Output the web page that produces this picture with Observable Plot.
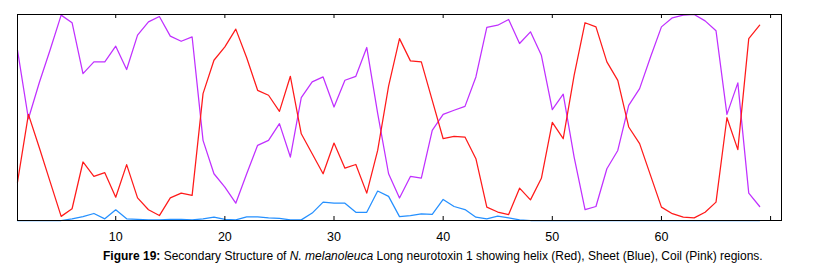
<!DOCTYPE html>
<html>
<head>
<meta charset="utf-8">
<script src="https://cdn.jsdelivr.net/npm/d3@7"></script>
<script src="https://cdn.jsdelivr.net/npm/@observablehq/plot@0.6"></script>
<style>
  html, body { margin: 0; padding: 0; background: #fff; }
  #wrap { position: relative; width: 820px; height: 272px; }
  #caption {
    position: absolute; left: 103px; top: 250px;
    font: 12px "Liberation Sans", Arial, sans-serif; line-height: 13px;
    color: #000; white-space: nowrap;
  }
</style>
</head>
<body>
<div id="wrap"><div id="chart"></div><div id="caption"><b>Figure 19:</b> Secondary Structure of <i>N. melanoleuca</i> Long neurotoxin 1 showing helix (Red), Sheet (Blue), Coil (Pink) regions.</div></div>
<script>
// Helix (red) probability per residue 1..69
const helix = [0.186,0.515,0.353,0.186,0.020,0.057,0.284,0.214,0.232,0.113,
  0.271,0.110,0.052,0.024,0.110,0.133,0.122,0.616,0.778,0.843,
  0.929,0.790,0.632,0.608,0.530,0.700,0.421,0.324,0.227,0.376,
  0.254,0.272,0.133,0.340,0.652,0.883,0.775,0.770,0.583,0.397,
  0.408,0.405,0.300,0.065,0.041,0.029,0.157,0.100,0.205,0.476,
  0.397,0.705,0.960,0.940,0.770,0.680,0.454,0.373,0.219,0.065,
  0.033,0.016,0.013,0.040,0.089,0.499,0.344,0.883,0.948];
// Sheet (blue)
const sheet = [0,0,0,0,0,0.008,0.019,0.034,0.008,0.052,
  0.008,0.005,0.003,0.003,0.005,0.005,0.003,0.008,0.016,0.005,
  0.003,0.018,0.018,0.013,0.010,0.003,0.003,0.036,0.089,0.084,
  0.084,0.040,0.040,0.143,0.117,0.019,0.024,0.032,0.030,0.102,
  0.068,0.053,0.016,0.008,0.021,0.013,0.003,0,0,0,
  0,0,0,0,0,0,0,0,0,0,
  0,0,0,0,0,0,0,0,0];
// Coil (pink/purple)
const coil = [0.827,0.494,0.670,0.830,0.997,0.960,0.713,0.770,0.770,0.846,
  0.733,0.900,0.964,0.990,0.895,0.870,0.891,0.389,0.227,0.162,
  0.084,0.227,0.365,0.389,0.470,0.308,0.596,0.673,0.697,0.551,
  0.681,0.700,0.840,0.520,0.227,0.109,0.214,0.206,0.438,0.515,
  0.535,0.554,0.697,0.937,0.948,0.976,0.859,0.916,0.802,0.538,
  0.613,0.308,0.053,0.068,0.251,0.340,0.559,0.640,0.794,0.940,
  0.984,0.997,1.000,0.969,0.921,0.515,0.668,0.133,0.068];
const xTicks = [10, 20, 30, 40, 50, 60, 70];
const xTickLabels = ["10", "20", "30", "40", "50", "60", ""];

const table = helix.map((h, i) => ({pos: i + 1, helix: h, sheet: sheet[i], coil: coil[i]}));

const W = 820, H = 243, mT = 14, mB = 23, mL = 17, mR = 39;
const innerH = H - mT - mB;
const tickLen = 4;

const chart = Plot.plot({
  width: W, height: H,
  marginTop: mT, marginBottom: mB, marginLeft: mL, marginRight: mR,
  style: {background: "#fff", fontFamily: "'Liberation Sans', Arial, sans-serif", color: "#000"},
  x: {domain: [1, 71]},
  y: {domain: [0, 1], axis: null},
  marks: [
    Plot.line(table, {x: "pos", y: "coil", stroke: "#c030ff", strokeWidth: 1.25}),
    Plot.line(table, {x: "pos", y: "helix", stroke: "#ff1a1a", strokeWidth: 1.25}),
    Plot.line(table, {x: "pos", y: "sheet", stroke: "#2590ff", strokeWidth: 1.25}),
    Plot.ruleX(xTicks, {x: d => d, insetTop: innerH - tickLen, stroke: "#000"}),
    Plot.ruleX(xTicks, {x: d => d, insetBottom: innerH - tickLen, stroke: "#000"}),
    Plot.axisX(xTicks, {tickSize: 0, tickPadding: 12, fontSize: 12.5, label: null,
      tickFormat: d => xTickLabels[xTicks.indexOf(d)], fill: "#000"}),
    Plot.frame({stroke: "#000", strokeWidth: 1})
  ]
});
document.getElementById("chart").appendChild(chart);
</script>
</body>
</html>
